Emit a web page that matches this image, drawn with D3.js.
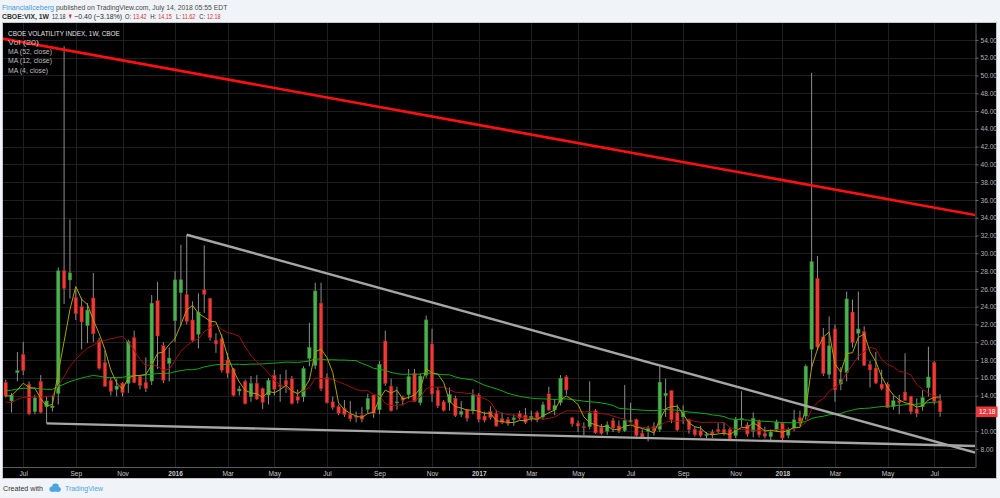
<!DOCTYPE html>
<html><head><meta charset="utf-8">
<script src="https://cdn.jsdelivr.net/npm/d3@7"></script>
<style>html,body{margin:0;padding:0;background:#f0f3f7;} svg{display:block}</style>
</head><body>
<svg id="c" width="1000" height="498"></svg>
<script>
// ---------- DATA (weekly CBOE:VIX candles) ----------
const firstWeek = "2015-06-15";
const lastWeek = "2018-07-09";
const open = [15.49,13.4,16.6,18.64,15.27,12.2,15.6,12.75,12.64,14.25,
28.05,27.0,25.05,24.0,21.86,24.98,20.18,17.7,15.68,14.7,
15.4,15.38,20.5,16.16,15.49,15.64,24.68,19.61,17.63,22.43,
25.58,25.39,22.5,20.9,25.9,24.9,20.2,20.4,18.0,17.0,
14.52,15.6,13.88,15.4,14.8,14.06,16.28,15.2,15.7,15.9,
13.88,13.85,18.2,17.4,24.4,16.05,13.3,12.75,12.56,11.9,
11.7,11.8,12.45,14.05,12.4,20.14,15.07,13.2,13.76,14.1,
16.5,13.2,16.3,19.8,14.6,13.3,13.2,13.7,11.9,12.4,
12.3,14.07,11.7,12.2,12.0,11.4,11.3,11.3,12.0,11.8,
11.4,12.1,11.6,14.2,12.4,13.2,16.1,11.5,10.9,10.5,
10.5,12.3,10.4,10.0,11.2,10.6,10.05,11.1,11.3,9.75,
10.0,10.5,10.2,14.0,14.55,12.1,11.6,11.3,10.2,10.05,
9.5,9.9,10.2,10.2,10.2,9.5,11.3,10.7,10.0,11.1,
9.75,9.38,10.1,10.9,9.55,10.3,11.5,11.7,19.2,27.2,
20.6,16.4,21.5,15.3,16.6,23.4,21.0,21.2,17.5,17.1,
15.3,15.3,12.75,13.4,14.4,13.9,12.5,12.75,14.9,17.7,
13.42];
const high = [15.8,14.3,18.9,20.05,15.6,14.1,16.3,13.9,14.0,28.4,
53.29,33.8,26.0,25.0,24.4,27.8,20.5,19.1,16.0,15.9,
15.5,20.3,21.3,16.3,18.3,25.3,26.8,20.0,19.4,28.0,
30.95,32.09,24.6,25.5,30.9,25.0,21.0,20.9,18.8,17.1,
15.1,15.8,16.2,16.3,14.9,16.0,16.9,16.4,16.9,16.2,
14.7,17.3,22.2,26.7,26.7,16.5,13.9,13.0,13.5,13.4,
12.2,12.7,14.2,14.1,17.9,21.3,15.9,15.0,14.0,17.0,
17.0,16.5,23.0,21.5,15.0,13.5,14.9,14.0,13.4,12.5,
14.7,14.3,12.2,12.8,12.4,12.1,11.6,11.9,12.3,12.6,
12.3,12.3,13.3,15.0,13.6,16.3,16.3,11.6,11.2,11.0,
15.6,12.5,10.8,11.1,11.5,11.2,15.2,13.2,11.4,10.2,
10.6,11.0,17.28,15.9,14.6,13.0,12.9,11.4,10.5,10.6,
9.9,10.2,10.9,11.0,10.4,11.6,14.5,11.0,12.1,11.3,
10.5,10.2,11.3,11.0,10.4,12.4,12.3,17.5,50.3,29.7,
21.6,22.9,22.0,17.2,25.7,24.8,25.7,21.8,17.9,18.9,
16.9,15.5,14.0,14.1,18.75,14.0,13.7,14.6,19.5,17.9,
14.15];
const low = [13.8,12.1,15.6,16.3,11.8,11.9,12.0,10.88,12.2,13.0,
24.3,24.9,22.5,19.2,19.9,20.0,16.9,15.0,14.0,13.9,
13.9,14.3,15.4,14.7,14.4,15.2,17.0,15.4,15.6,20.0,
21.8,22.0,20.0,19.3,23.3,20.2,18.8,16.6,16.0,13.9,
14.0,13.0,13.3,13.5,12.5,13.0,14.0,13.3,14.3,13.0,
13.1,13.3,17.3,17.0,14.5,13.1,12.4,11.8,11.6,11.1,
11.0,11.0,12.0,11.5,11.9,15.1,12.2,12.4,12.9,13.6,
13.3,12.9,16.0,13.3,12.6,12.2,12.3,11.6,11.6,11.1,
11.9,11.0,11.0,11.3,10.5,10.8,10.6,10.6,11.3,10.8,
11.1,11.0,11.3,12.3,11.8,12.9,14.1,10.5,9.9,9.56,
10.2,9.7,9.6,9.6,9.9,9.8,9.9,10.9,9.4,9.2,
8.84,9.5,9.9,11.6,10.9,10.0,10.8,9.7,9.4,9.3,
9.2,9.2,9.8,9.5,9.0,9.2,10.5,9.4,9.3,9.3,
9.2,9.0,9.9,8.92,9.2,10.0,10.6,11.3,17.0,19.1,
16.2,15.9,13.3,14.6,15.6,19.4,18.0,17.3,14.9,15.3,
14.6,12.6,12.4,11.9,13.4,11.9,11.6,12.3,13.9,13.0,
11.62];
const close = [13.96,14.02,16.79,16.83,11.95,13.74,12.12,13.39,12.83,28.03,
26.05,27.80,23.20,22.28,23.62,20.94,17.08,15.05,14.46,15.07,
14.33,20.08,15.47,15.12,14.81,24.39,20.70,15.74,18.21,27.01,
27.02,22.34,20.20,23.38,25.40,20.53,19.81,16.86,16.50,14.02,
14.74,13.10,15.36,13.62,13.22,15.70,14.72,15.04,15.20,13.12,
13.47,17.03,19.41,25.76,14.77,13.20,12.67,12.02,11.87,11.39,
11.55,11.34,13.65,11.98,17.50,15.37,12.29,13.29,13.48,16.12,
13.34,16.19,22.51,14.17,12.85,12.34,14.12,11.75,12.20,11.44,
14.04,11.32,11.23,11.54,10.58,10.97,10.85,11.49,11.47,10.96,
11.66,11.28,12.96,12.37,12.87,15.96,14.63,10.82,10.57,10.40,
12.04,9.81,9.75,10.70,10.38,10.02,11.18,11.19,9.51,9.36,
10.29,10.03,15.51,14.26,11.28,10.13,12.12,10.17,9.59,9.51,
9.65,9.61,9.97,9.80,9.14,11.29,11.43,9.67,11.43,9.58,
9.42,9.90,11.04,9.22,10.16,11.27,11.08,17.31,29.06,19.46,
16.49,19.59,14.64,15.80,24.87,19.97,21.49,17.41,16.88,15.41,
14.77,12.65,13.42,13.22,13.46,12.18,11.98,13.77,16.09,13.37,
12.18];
// weekly closes before the visible range (feed the moving averages at the left edge)
const priorCloses = [10.85,11.26,10.32,12.08,12.06,12.69,17.03,15.77,13.15,11.47,12.09,12.09,13.31,12.11,14.85,14.55,21.24,21.99,16.11,14.03,13.12,13.31,12.90,13.33,11.82,21.08,16.49,14.50,17.79,17.55,20.95,16.66,20.97,17.29,14.69,14.30,13.34,15.20,16.00,13.02,15.07,14.67,12.58,13.89,12.29,12.70,12.86,12.38,12.13,13.84,14.21,13.78];
const maPeriods = [52, 12, 4];
const maColors = ["#12ab12", "#9a1212", "#a8a400"];
const tickMonths = ["2015-07","2015-09","2015-11","2016-01","2016-03","2016-05","2016-07","2016-09","2016-11","2017-01","2017-03","2017-05","2017-07","2017-09","2017-11","2018-01","2018-03","2018-05","2018-07"];
const tickLabels = ["Jul","Sep","Nov","2016","Mar","May","Jul","Sep","Nov","2017","Mar","May","Jul","Sep","Nov","2018","Mar","May","Jul"];
const priceTicks = [8,10,12,14,16,18,20,22,24,26,28,30,32,34,36,38,40,42,44,46,48,50,52,54];
const redTrend = [["2015-06-08",54.2],["2018-08-20",34.3]];
const upperTrend = [["2016-01-18",32.09],["2018-08-20",7.6]];
const lowerTrend = [["2015-08-03",10.88],["2018-08-20",8.33]];
const lastPrice = 12.18;

// ---------- RENDER ----------
const parse = d3.utcParse("%Y-%m-%d");
const weeks = d3.utcMonday.range(parse(firstWeek), d3.utcDay.offset(parse(lastWeek), 1));
const N = Math.min(weeks.length, close.length);
const svg = d3.select("#c");
const font = "'Liberation Sans', Arial, sans-serif";
const P = {l:3, r:975, t:23, b:467};

const x = d3.scaleUtc().domain([weeks[0], weeks[N-1]]).range([5.7, 940.1]);
const y = d3.scaleLinear().domain([5.97, 55.9]).range([P.b, P.t]);

svg.append("rect").attr("width",1000).attr("height",498).attr("fill","#f0f3f7");
svg.append("rect").attr("x",2.5).attr("y",22.5).attr("width",994).attr("height",456)
  .attr("fill","#000").attr("stroke","#c4c8ce").attr("stroke-width",1);

const defs = svg.append("defs");
defs.append("clipPath").attr("id","pc").append("rect")
  .attr("x",P.l).attr("y",P.t).attr("width",P.r-P.l).attr("height",P.b-P.t);

// tick dates: first weekly bar on/after month start
const tickDates = tickMonths.map(m => { const d = parse(m+"-01"); return weeks.find(w => w >= d); });

// grid
const grid = svg.append("g");
grid.selectAll(".hg").data(priceTicks).join("line")
  .attr("x1",P.l).attr("x2",P.r).attr("y1",d=>Math.round(y(d))+0.5).attr("y2",d=>Math.round(y(d))+0.5)
  .attr("stroke","#1f1f1f").attr("stroke-width",1);
grid.selectAll(".vg").data(tickDates).join("line")
  .attr("y1",P.t).attr("y2",P.b).attr("x1",d=>Math.round(x(d))+0.5).attr("x2",d=>Math.round(x(d))+0.5)
  .attr("stroke","#1f1f1f").attr("stroke-width",1);

// axes
const gy = svg.append("g").attr("transform",`translate(${P.r+0.5},0)`)
  .call(d3.axisRight(y).tickValues(priceTicks).tickFormat(d3.format(".2f")).tickSize(3).tickSizeOuter(0).tickPadding(2));
gy.select(".domain").attr("stroke","#5c5c5c");
gy.selectAll(".tick line").attr("stroke","#6a6a6a");
gy.selectAll("text").attr("fill","#b4b4b4").style("font-family",font).style("font-size","6.6px");

const gx = svg.append("g").attr("transform",`translate(0,${P.b})`)
  .call(d3.axisBottom(x).tickValues(tickDates).tickFormat((d,i)=>tickLabels[i]).tickSize(0).tickPadding(4));
gx.select(".domain").remove();
gx.selectAll("text").attr("fill","#c8c8c8").style("font-family",font).style("font-size","6.6px")
  .style("font-weight",(d,i)=>/^\d{4}$/.test(tickLabels[i]) ? "bold" : "normal");
svg.append("line").attr("x1",P.l).attr("x2",P.r+0.5).attr("y1",P.b+0.5).attr("y2",P.b+0.5).attr("stroke","#5c5c5c");

// candles
const plot = svg.append("g").attr("clip-path","url(#pc)");
const idx = d3.range(N);
const bw = 3.4;
plot.append("g").selectAll("line").data(idx).join("line")
  .attr("x1",i=>x(weeks[i])).attr("x2",i=>x(weeks[i]))
  .attr("y1",i=>y(high[i])).attr("y2",i=>y(low[i]))
  .attr("stroke","#8e8e8e").attr("stroke-width",1);
plot.append("g").selectAll("rect").data(idx).join("rect")
  .attr("x",i=>x(weeks[i])-bw/2).attr("width",bw)
  .attr("y",i=>y(Math.max(open[i],close[i])))
  .attr("height",i=>Math.max(1, Math.abs(y(open[i])-y(close[i]))))
  .attr("fill",i=>close[i]>=open[i] ? "#4caf50" : "#ef3b36")
  .attr("stroke",i=>close[i]>=open[i] ? "#2e8b32" : "#a81d1d").attr("stroke-width",0.5);

// moving averages
const allC = priorCloses.concat(close.slice(0,N));
const off = priorCloses.length;
maPeriods.forEach((p,k) => {
  const vals = idx.map(i => d3.mean(allC.slice(off+i-p+1, off+i+1)));
  plot.append("path").datum(idx)
    .attr("d", d3.line().x(i=>x(weeks[i])).y(i=>y(vals[i])))
    .attr("fill","none").attr("stroke",maColors[k]).attr("stroke-width",1);
});

// trend lines
const tl = d3.line().x(d=>x(parse(d[0]))).y(d=>y(d[1]));
plot.append("path").datum(upperTrend).attr("d",tl).attr("stroke","#a6a6a6").attr("stroke-width",2.4).attr("fill","none");
plot.append("path").datum(lowerTrend).attr("d",tl).attr("stroke","#a6a6a6").attr("stroke-width",2.4).attr("fill","none");
plot.append("path").datum(redTrend).attr("d",tl).attr("stroke","#ff1010").attr("stroke-width",2.6).attr("fill","none");

// last price tag
const ly = y(lastPrice);
svg.append("rect").attr("x",P.r+1).attr("y",ly-5.3).attr("width",21.5).attr("height",10.6).attr("fill","#e8383d");
svg.append("text").attr("x",P.r+4).attr("y",ly+2.4).attr("fill","#fff")
  .style("font-family",font).style("font-size","6.6px").text(d3.format(".2f")(lastPrice));

// text fitted horizontally to the width it has in the reference (scaled, so its box is exact)
function fitText(str, x0, y0, width, fill, size, weight) {
  const g = svg.append("g").attr("transform", `translate(${x0},${y0})`);
  const t = g.append("text").attr("x",0).attr("y",0).attr("fill",fill)
    .style("font-family",font).style("font-size",size+"px").style("font-weight",weight||"normal").text(str);
  const w = t.node().getComputedTextLength();
  if (w > 0) t.attr("transform", `scale(${width/w},1)`);
  return t;
}

// legend
const legend = [["CBOE VOLATILITY INDEX, 1W, CBOE",35.8,112,"#e2e2e2"],["Vol (20)",44.9,31,"#bdbdbd"],
  ["MA (52, close)",54.2,44,"#bdbdbd"],["MA (12, close)",63.4,44,"#bdbdbd"],["MA (4, close)",72.6,40,"#bdbdbd"]];
legend.forEach(d => fitText(d[0], 8, d[1], d[2], d[3], 7.4));

// header (each piece placed where it sits in the reference)
const dark = "#2f2f2f", red = "#d0302f", blue = "#3d9be0";
const headerParts = [
  ["FinancialIceberg", 2, 10.2, 52, blue, "normal"],
  ["published on TradingView.com, July 14, 2018 05:55 EDT", 56, 10.2, 171.5, "#4a4a4a", "normal"],
  ["CBOE:VIX, 1W", 2, 19.3, 47, dark, "bold"],
  ["12.18", 52, 19.3, 13.5, dark, "normal"],
  ["▼", 67.8, 19.3, 5, red, "normal"],
  ["−0.40 (−3.18%)", 74.2, 19.3, 48, dark, "normal"],
  ["O:", 125, 19.3, 6, dark, "normal"], ["13.42", 133, 19.3, 13.5, red, "normal"],
  ["H:", 150.2, 19.3, 6, dark, "normal"], ["14.15", 158.2, 19.3, 13.5, red, "normal"],
  ["L:", 176, 19.3, 4.8, dark, "normal"], ["11.62", 182, 19.3, 13.4, red, "normal"],
  ["C:", 199.2, 19.3, 5.8, dark, "normal"], ["12.18", 207, 19.3, 13.4, red, "normal"]
];
headerParts.forEach(d => fitText(d[0], d[1], d[2], d[3], d[4], 7.7, d[5]));

// footer
fitText("Created with", 3, 491, 40, "#333", 7.6);
const cloud = svg.append("g").attr("transform","translate(48,483)").attr("fill","#4aa6e0");
cloud.append("circle").attr("cx",4).attr("cy",6).attr("r",2.6);
cloud.append("circle").attr("cx",7.5).attr("cy",4).attr("r",3.4);
cloud.append("circle").attr("cx",10.5).attr("cy",6.3).attr("r",2.4);
cloud.append("rect").attr("x",3).attr("y",6).attr("width",8.5).attr("height",2.7);
fitText("TradingView", 65, 491, 38, "#4aa6e0", 7.6);
</script>
</body></html>
